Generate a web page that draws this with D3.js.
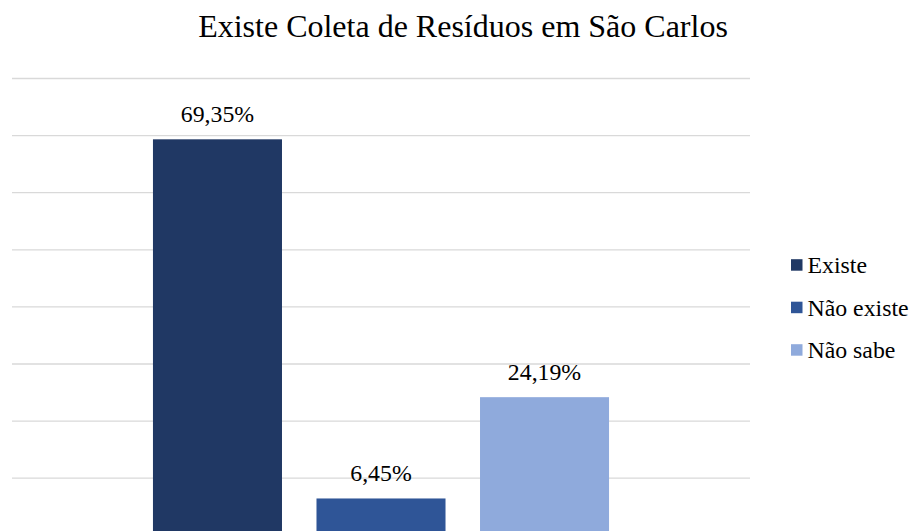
<!DOCTYPE html>
<html>
<head>
<meta charset="utf-8">
<script src="https://cdn.jsdelivr.net/npm/d3@7"></script>
<style>
  html, body { margin: 0; padding: 0; background: #fff; }
  svg { display: block; }
</style>
</head>
<body>
<svg id="chart" width="912" height="531"></svg>
<script>
const title = "Existe Coleta de Resíduos em São Carlos";
const series = ["Existe", "Não existe", "Não sabe"];
const values = [69.35, 6.45, 24.19];
const valueLabels = ["69,35%", "6,45%", "24,19%"];
const colors = ["#203864", "#2F5597", "#8FAADC"];
const yTicks = [0, 10, 20, 30, 40, 50, 60, 70, 80];

const FONT = "'Liberation Serif', serif";
const svg = d3.select("#chart");
const plot = { left: 12, right: 750, top: 78.5, bottom: 535.3 };

const y = d3.scaleLinear().domain([0, 80]).range([plot.bottom, plot.top]);
const x = d3.scaleBand().domain(series).range([plot.left, plot.right])
  .paddingInner(0.211).paddingOuter(0.862);

// gridlines
svg.append("g").selectAll("line").data(yTicks).join("line")
  .attr("x1", plot.left).attr("x2", plot.right)
  .attr("y1", d => y(d)).attr("y2", d => y(d))
  .attr("stroke", "#d9d9d9").attr("stroke-width", 1.3);

// bars
svg.append("g").selectAll("rect").data(series).join("rect")
  .attr("x", d => x(d))
  .attr("width", x.bandwidth())
  .attr("y", (d, i) => y(values[i]))
  .attr("height", (d, i) => y(0) - y(values[i]))
  .attr("fill", (d, i) => colors[i]);

// value labels
svg.append("g").selectAll("text").data(series).join("text")
  .attr("x", d => x(d) + x.bandwidth() / 2)
  .attr("y", (d, i) => y(values[i]) - 17)
  .attr("text-anchor", "middle")
  .attr("font-family", FONT)
  .attr("font-size", 23.8)
  .attr("fill", "#000")
  .text((d, i) => valueLabels[i]);

// title
svg.append("text")
  .attr("x", 463).attr("y", 37)
  .attr("text-anchor", "middle")
  .attr("font-family", FONT)
  .attr("font-size", 32)
  .attr("fill", "#000")
  .text(title);

// legend
const lg = svg.append("g").selectAll("g").data(series).join("g")
  .attr("transform", (d, i) => `translate(791, ${265 + i * 42.5})`);
lg.append("rect").attr("x", 0).attr("y", -5.8).attr("width", 11.5).attr("height", 11.5)
  .attr("fill", (d, i) => colors[i]);
lg.append("text").attr("x", 16.5).attr("y", 8)
  .attr("font-family", FONT)
  .attr("font-size", 23.8)
  .attr("fill", "#000")
  .text(d => d);
</script>
</body>
</html>
